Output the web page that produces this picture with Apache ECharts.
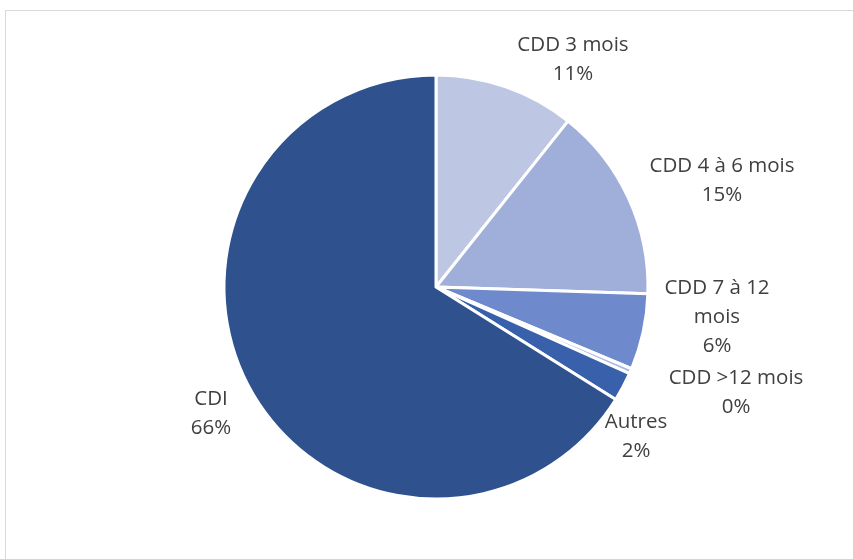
<!DOCTYPE html>
<html>
<head>
<meta charset="utf-8">
<script src="https://cdn.jsdelivr.net/npm/echarts@6/dist/echarts.min.js"></script>
<style>
  html, body { margin: 0; padding: 0; background: #fff; }
  #chart { width: 853px; height: 559px; }
</style>
</head>
<body>
<div id="chart"></div>
<script>
// contract types, clockwise from 12 o'clock
const categories = ['CDD 3 mois', 'CDD 4 à 6 mois', 'CDD 7 à 12\nmois', 'CDD >12 mois', 'Autres', 'CDI'];
const shares = [10.7, 14.8, 5.8, 0.4, 2.2, 66.1];
const colors = ['#BDC7E4', '#A0AFDA', '#6E8ACD', '#A9BCE3', '#3960AA', '#2F528F'];

// label centres relative to the pie centre (Excel-style placement)
const labelOffsets = [[137, -227], [286, -106], [281, 30], [300, 106], [200, 150], [-225, 127]];

const cx = 436, cy = 287;
const chart = echarts.init(document.getElementById('chart'), null, { renderer: 'canvas' });

const option = {
    animation: false,
    graphic: [{
        type: 'rect',
        shape: { x: 5.5, y: 10.5, width: 900, height: 600 },
        style: { fill: 'none', stroke: '#d9d9d9', lineWidth: 1 },
        silent: true
    }],
    series: [{
        type: 'pie',
        center: [cx, cy],
        radius: 212,
        startAngle: 90,
        clockwise: true,
        avoidLabelOverlap: false,
        data: categories.map((name, i) => ({
            name: name,
            value: shares[i],
            itemStyle: { color: colors[i] }
        })),
        itemStyle: { borderColor: '#fff', borderWidth: 3 },
        label: {
            show: true,
            position: 'outside',
            formatter: p => p.name + '\n' + Math.round(p.percent) + '%',
            fontFamily: 'Open Sans',
            fontSize: 20.5,
            lineHeight: 29,
            color: '#404040',
            align: 'center'
        },
        labelLine: { show: false, length: 30, length2: 0 },
        labelLayout: params => ({
            x: cx + labelOffsets[params.dataIndex][0],
            y: cy + labelOffsets[params.dataIndex][1],
            align: 'center',
            verticalAlign: 'middle',
            hideOverlap: false,
            moveOverlap: null
        }),
        emphasis: { disabled: true }
    }]
};

chart.setOption(option);
</script>
</body>
</html>
